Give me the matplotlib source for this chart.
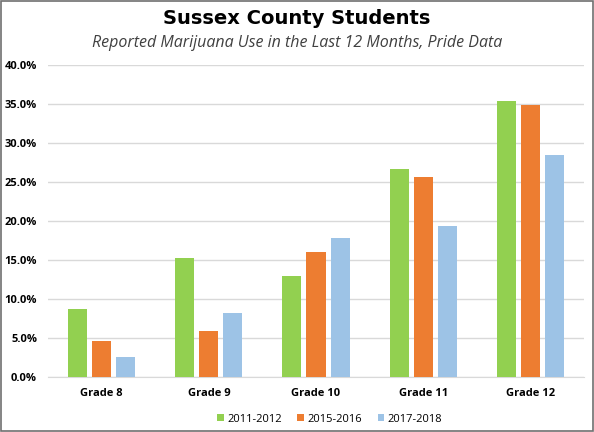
import matplotlib.pyplot as plt
import numpy as np
from matplotlib.ticker import FuncFormatter

grades = ['Grade 8', 'Grade 9', 'Grade 10', 'Grade 11', 'Grade 12']
years = ['2011-2012', '2015-2016', '2017-2018']
y2011 = [8.7, 15.2, 13.0, 26.7, 35.4]
y2015 = [4.6, 5.9, 16.0, 25.6, 34.8]
y2017 = [2.6, 8.2, 17.8, 19.3, 28.4]
colors = ['#92D050', '#ED7D31', '#9DC3E6']

plt.rcParams['font.family'] = ['Open Sans', 'DejaVu Sans']

fig = plt.figure(figsize=(5.94, 4.32), dpi=100)
ax = fig.add_axes([0.081, 0.127, 0.902, 0.723])

x = np.arange(len(grades))
w = 0.178
step = 0.225
for i, (vals, lab) in enumerate(zip([y2011, y2015, y2017], years)):
    ax.bar(x + (i - 1) * step, vals, w, color=colors[i], label=lab, zorder=3)

ax.set_ylim(0, 40)
ax.set_xlim(-0.5, len(grades) - 0.5)
ax.set_yticks(np.arange(0, 41, 5))
ax.yaxis.set_major_formatter(FuncFormatter(lambda v, p: '%.1f%%' % v))
ax.grid(axis='y', color='#d9d9d9', linewidth=1, zorder=0)
for s in ['top', 'right', 'left']:
    ax.spines[s].set_visible(False)
ax.spines['bottom'].set_color('#d9d9d9')
ax.tick_params(axis='both', length=0, labelsize=8)
ax.tick_params(axis='y', pad=8)
ax.tick_params(axis='x', pad=8)
ax.set_xticks(x)
ax.set_xticklabels(grades, fontweight='bold')
for t in ax.get_yticklabels():
    t.set_fontweight('bold')

fig.text(0.5, 0.958, 'Sussex County Students', ha='center', va='center',
         fontsize=14, fontweight='bold', family=['Liberation Sans Narrow', 'DejaVu Sans'])
fig.text(0.5, 0.9, 'Reported Marijuana Use in the Last 12 Months, Pride Data',
         ha='center', va='center', fontsize=11.5, style='italic', color='#404040')

leg = fig.legend(loc='center', bbox_to_anchor=(0.555, 0.03), ncol=3, frameon=False,
                 fontsize=8, handlelength=0.6, handleheight=0.6, handletextpad=0.3,
                 columnspacing=1.4)

border = plt.Rectangle((0.002, 0.002), 0.996, 0.996, transform=fig.transFigure,
                       fill=False, edgecolor='#707070', linewidth=1.2)
fig.patches.append(border)

fig.savefig('out.png', dpi=100)
